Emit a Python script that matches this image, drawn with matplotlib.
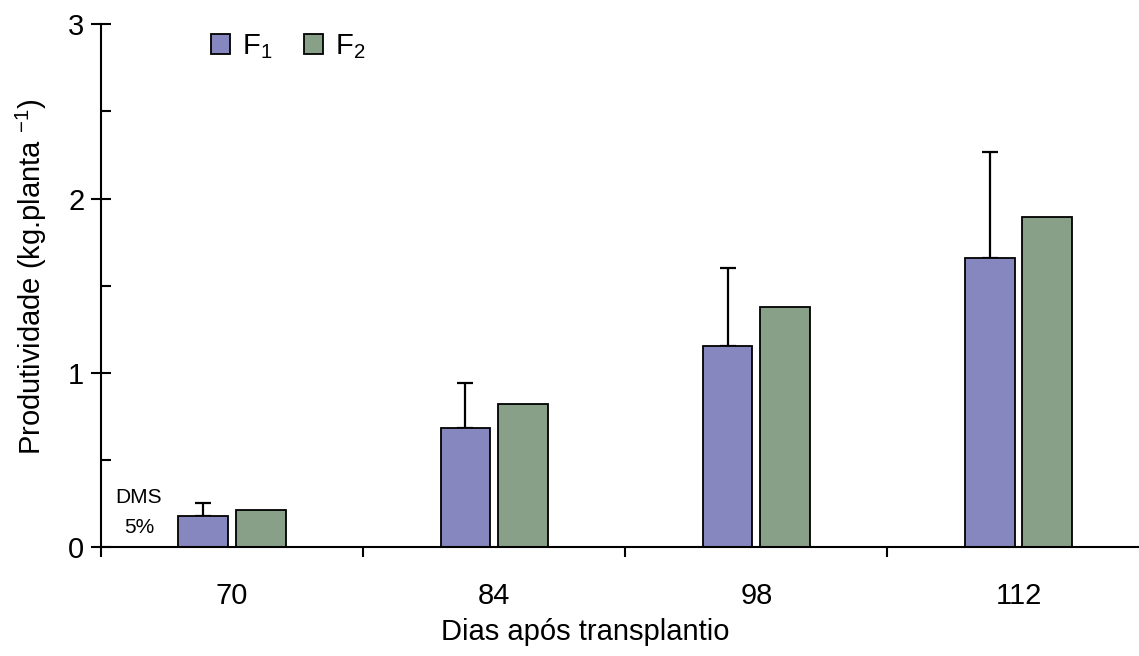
import matplotlib
matplotlib.use('Agg')
import matplotlib.pyplot as plt
import numpy as np
from matplotlib.ticker import MultipleLocator, FixedLocator, NullFormatter

plt.rcParams['font.family'] = ['Liberation Sans', 'DejaVu Sans']
plt.rcParams['mathtext.fontset'] = 'custom'
plt.rcParams['mathtext.rm'] = 'Liberation Sans'
plt.rcParams['mathtext.it'] = 'Liberation Sans'

dias = ['70', '84', '98', '112']
f1 = [0.18, 0.685, 1.155, 1.66]
f2 = [0.215, 0.825, 1.38, 1.895]
dms = [0.075, 0.26, 0.445, 0.605]

fig = plt.figure(figsize=(11.39, 6.56), dpi=100)
ax = fig.add_axes([0.0887, 0.1654, 0.9206, 0.798])

x = np.arange(len(dias))
w = 0.19
ax.bar(x - 0.11, f1, w, color='#8787c0', edgecolor='black', linewidth=1.3,
       label='F$_1$', zorder=2)
ax.bar(x + 0.11, f2, w, color='#87a087', edgecolor='black', linewidth=1.3,
       label='F$_2$', zorder=2)
ax.errorbar(x - 0.11, f1, yerr=[np.zeros(len(dms)), dms], fmt='none',
            ecolor='black', elinewidth=1.6, capsize=5.5, capthick=1.6, zorder=1)

ax.text(-0.355, 0.285, 'DMS', fontsize=15, ha='center', va='center')
ax.text(-0.355, 0.115, '5%', fontsize=15, ha='center', va='center')

ax.set_xlim(-0.5, 3.5)
ax.set_ylim(0, 3)

ax.xaxis.set_major_locator(FixedLocator(np.arange(-0.5, 4, 1)))
ax.xaxis.set_major_formatter(NullFormatter())
ax.xaxis.set_minor_locator(FixedLocator(x))
ax.set_xticklabels(dias, minor=True)
ax.tick_params(axis='x', which='major', direction='out', length=7, width=1.5)
ax.tick_params(axis='x', which='minor', length=0, pad=25, labelsize=21)

ax.yaxis.set_major_locator(MultipleLocator(1))
ax.yaxis.set_minor_locator(MultipleLocator(0.5))
ax.tick_params(axis='y', which='major', direction='inout', length=14, width=1.5,
               pad=5, labelsize=21)
ax.tick_params(axis='y', which='minor', direction='in', length=7, width=1.5)

for s in ['top', 'right']:
    ax.spines[s].set_visible(False)
for s in ['left', 'bottom']:
    ax.spines[s].set_linewidth(1.5)

ax.set_xlabel('Dias após transplantio', fontsize=21)
ax.xaxis.set_label_coords(0.462, -0.135)
ax.set_ylabel('Produtividade (kg.planta $^{-1}$)', fontsize=21)
ax.yaxis.set_label_coords(-0.05, 0.517)

ax.legend(loc='upper left', bbox_to_anchor=(0.08, 1.035), ncol=2, frameon=False,
          fontsize=21, handlelength=0.65, handleheight=0.7, handletextpad=0.4,
          columnspacing=1.1)

fig.savefig('out.png', dpi=100)
